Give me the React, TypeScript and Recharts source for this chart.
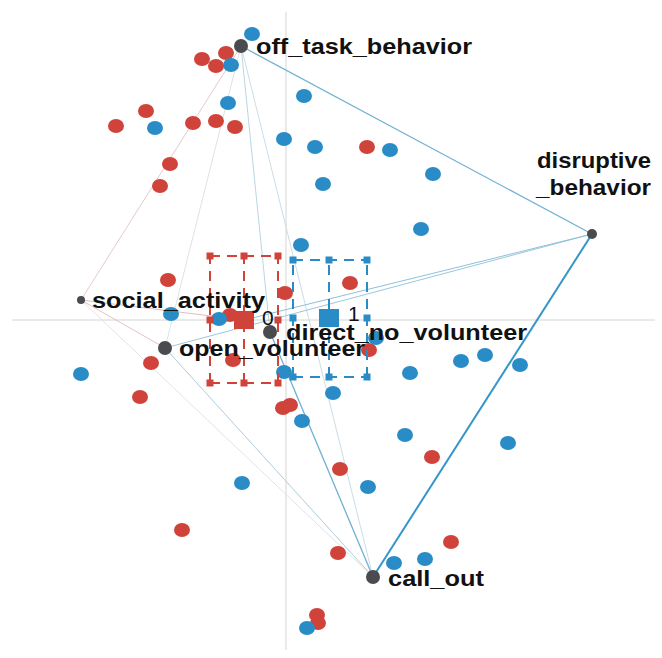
import React from "react";
import { ScatterChart, Scatter, XAxis, YAxis } from "recharts";

// observations, group 0 (red) and group 1 (blue)
const group0X = [-0.84, -0.7, -0.6, -1.4, -1.7, -0.93, -0.7, -0.51, -1.16, -1.26, 0.81, -1.18, -0.56, -0.01, -1.35, -0.53, -1.46, -0.03, 0.04, 0.64, 0.83, -1.04, 0.31, 0.32, 0.54, 1.46, 0.52, 1.65];
const group0Y = [2.61, 2.54, 2.67, 2.09, 1.94, 1.97, 1.99, 1.93, 1.56, 1.34, 1.73, 0.4, 0.05, 0.27, -0.43, -0.4, -0.77, -0.88, -0.85, 0.37, -0.3, -2.1, -2.95, -3.03, -1.49, -1.37, -2.33, -2.22];
const group1X = [-0.34, -0.55, -0.58, -1.31, 0.18, -0.02, 0.29, 0.37, 1.04, 1.47, 1.35, 0.15, -1.15, -0.67, -2.05, -0.02, 0.16, 0.9, 1.75, 1.99, 2.34, 1.24, 0.47, 1.19, 2.22, -0.44, 0.21, 0.82, 1.08, 1.39];
const group1Y = [2.86, 2.55, 2.17, 1.92, 2.24, 1.81, 1.73, 1.36, 1.7, 1.46, 0.91, 0.75, 0.06, 0.01, -0.54, -0.52, -1.01, -0.18, -0.41, -0.35, -0.45, -0.53, -0.73, -1.15, -1.23, -1.63, -3.08, -1.67, -2.43, -2.39];

// variables
const varNames = ["off_task_behavior", "disruptive_behavior", "social_activity", "open_volunteer", "direct_no_volunteer", "call_out"];
const varX = [-0.45, 3.06, -2.05, -1.21, -0.16, 0.87];
const varY = [2.74, 0.86, 0.2, -0.28, -0.12, -2.57];
const varContrib = [7, 5, 4, 7, 7, 7];

// group means with spread (x: lo, mid, hi / y: lo, mid, hi)
const groupNames = ["0", "1"];
const groupBoxX = [[-0.76, -0.42, -0.08], [0.07, 0.43, 0.81]];
const groupBoxY = [[-0.63, 0, 0.64], [-0.57, 0.02, 0.6]];

// connections drawn between variables / means
const links = [
  ["off_task_behavior", "social_activity"],
  ["social_activity", "0"],
  ["social_activity", "open_volunteer"],
  ["social_activity", "call_out"],
  ["open_volunteer", "call_out"],
  ["off_task_behavior", "open_volunteer"],
  ["off_task_behavior", "call_out"],
  ["off_task_behavior", "direct_no_volunteer"],
  ["call_out", "open_volunteer"],
  ["disruptive_behavior", "open_volunteer"],
  ["disruptive_behavior", "0"],
  ["call_out", "direct_no_volunteer"],
  ["off_task_behavior", "disruptive_behavior"],
  ["disruptive_behavior", "call_out"],
];

const RED = "#cf433a";
const BLUE = "#2a8cc6";
const linkStyle = [
  { stroke: "#e6c9c9", w: 1 },
  { stroke: "#e2bdbd", w: 1 },
  { stroke: "#e2c4c4", w: 1 },
  { stroke: "#e3e3e3", w: 1 },
  { stroke: "#e6e6e6", w: 1 },
  { stroke: "#d9e4ea", w: 1 },
  { stroke: "#c9dde8", w: 1 },
  { stroke: "#b9d6e4", w: 1 },
  { stroke: "#b5d3e3", w: 1 },
  { stroke: "#9cc7dc", w: 1 },
  { stroke: "#8dc0da", w: 1 },
  { stroke: "#6fb0d2", w: 1.3 },
  { stroke: "#72b2d2", w: 1.2 },
  { stroke: "#3596c9", w: 2 },
];

const labelPos: Record<string, { dx: number; dy: number; len: number; lines?: string[] }> = {
  off_task_behavior: { dx: 15, dy: 0, len: 216 },
  disruptive_behavior: { dx: 59, dy: -74, len: 115, lines: ["disruptive", "_behavior"] },
  social_activity: { dx: 11, dy: 0, len: 173 },
  open_volunteer: { dx: 14, dy: 0, len: 186 },
  direct_no_volunteer: { dx: 16, dy: 0, len: 241 },
  call_out: { dx: 15, dy: 1, len: 96 },
};

const W = 662;
const H = 658;

const zip = (xs: number[], ys: number[]) => xs.map((x, i) => ({ x, y: ys[i] }));

function pos(name: string) {
  const vi = varNames.indexOf(name);
  if (vi >= 0) return { x: varX[vi], y: varY[vi] };
  const gi = groupNames.indexOf(name);
  return { x: groupBoxX[gi][1], y: groupBoxY[gi][1] };
}

const Dot = (color: string) => (p: any) => (
  <ellipse cx={p.cx} cy={p.cy} rx={8} ry={7} fill={color} />
);

const VarDot = (p: any) => {
  const { cx, cy, payload } = p;
  const lp = labelPos[payload.name];
  const font = { fontFamily: "'Liberation Sans', Arial, sans-serif", fontWeight: 700, fontSize: 22, fill: "#111" };
  return (
    <g>
      <circle cx={cx} cy={cy} r={payload.r} fill="#4a4b4e" />
      {lp.lines ? (
        lp.lines.map((t, i) => (
          <text key={i} x={cx + lp.dx} y={cy + lp.dy + i * 27} dy="0.35em" textAnchor="end" textLength={lp.len - (i === 0 ? 1 : 0)} lengthAdjust="spacingAndGlyphs" {...font}>
            {t}
          </text>
        ))
      ) : (
        <text x={cx + lp.dx} y={cy + lp.dy} dy="0.35em" textLength={lp.len} lengthAdjust="spacingAndGlyphs" {...font}>
          {payload.name}
        </text>
      )}
    </g>
  );
};

const Tick = (color: string) => (p: any) => (
  <rect x={p.cx - 3.5} y={p.cy - 3.5} width={7} height={7} fill={color} />
);

const MeanDot = (color: string, label: string, ldx: number, ldy: number) => (p: any) => (
  <g>
    <rect x={p.cx - 10} y={p.cy - 9} width={20} height={18} fill={color} />
    <text x={p.cx + ldx} y={p.cy + ldy} dy="0.35em" fontSize={21} fontFamily="'Liberation Sans', Arial, sans-serif" fill="#111">
      {label}
    </text>
  </g>
);

function boxSegments(gi: number) {
  const [x0, xm, x1] = groupBoxX[gi];
  const [y0, , y1] = groupBoxY[gi];
  return [
    [{ x: x0, y: y1 }, { x: x1, y: y1 }],
    [{ x: x0, y: y0 }, { x: x1, y: y0 }],
    [{ x: x0, y: y0 }, { x: x0, y: y1 }],
    [{ x: x1, y: y0 }, { x: x1, y: y1 }],
    [{ x: xm, y: y0 }, { x: xm, y: y1 }],
  ];
}

function boxTicks(gi: number) {
  const pts: { x: number; y: number }[] = [];
  groupBoxX[gi].forEach((x, i) =>
    groupBoxY[gi].forEach((y, j) => {
      if (!(i === 1 && j === 1)) pts.push({ x, y });
    })
  );
  return pts;
}

const none = () => null;

export default function App() {
  const colors = [RED, BLUE];
  return (
    <div style={{ position: "absolute", left: 0, top: 0, width: W, height: H, background: "#fff" }}>
      <ScatterChart width={W} height={H} margin={{ top: 0, right: 0, bottom: 0, left: 0 }}>
        <XAxis type="number" dataKey="x" domain={[-2.86, 3.76]} hide allowDataOverflow />
        <YAxis type="number" dataKey="y" domain={[-3.38, 3.2]} hide allowDataOverflow />
        {/* axes through origin */}
        <Scatter data={[{ x: -2.74, y: 0 }, { x: 3.69, y: 0 }]} line={{ stroke: "#d4d4d4", strokeWidth: 1 }} shape={none} isAnimationActive={false} />
        <Scatter data={[{ x: 0, y: 3.08 }, { x: 0, y: -3.3 }]} line={{ stroke: "#d4d4d4", strokeWidth: 1 }} shape={none} isAnimationActive={false} />
        {links.map(([a, b], i) => (
          <Scatter
            key={"l" + i}
            data={[pos(a), pos(b)]}
            line={{ stroke: linkStyle[i].stroke, strokeWidth: linkStyle[i].w }}
            shape={none}
            isAnimationActive={false}
          />
        ))}
        <Scatter data={zip(group0X, group0Y)} shape={Dot(RED)} isAnimationActive={false} />
        <Scatter data={zip(group1X, group1Y)} shape={Dot(BLUE)} isAnimationActive={false} />
        {[0, 1].map((gi) =>
          boxSegments(gi).map((seg, si) => (
            <Scatter
              key={`b${gi}-${si}`}
              data={seg}
              line={{ stroke: colors[gi], strokeWidth: 2, strokeDasharray: "10 7" }}
              shape={none}
              isAnimationActive={false}
            />
          ))
        )}
        <Scatter data={boxTicks(0)} shape={Tick(RED)} isAnimationActive={false} />
        <Scatter data={boxTicks(1)} shape={Tick(BLUE)} isAnimationActive={false} />
        <Scatter data={[pos("0")]} shape={MeanDot(RED, "0", 18, -2)} isAnimationActive={false} />
        <Scatter data={[pos("1")]} shape={MeanDot(BLUE, "1", 19, -4)} isAnimationActive={false} />
        <Scatter
          data={varNames.map((name, i) => ({ name, x: varX[i], y: varY[i], r: varContrib[i] }))}
          shape={VarDot}
          isAnimationActive={false}
        />
      </ScatterChart>
    </div>
  );
}
